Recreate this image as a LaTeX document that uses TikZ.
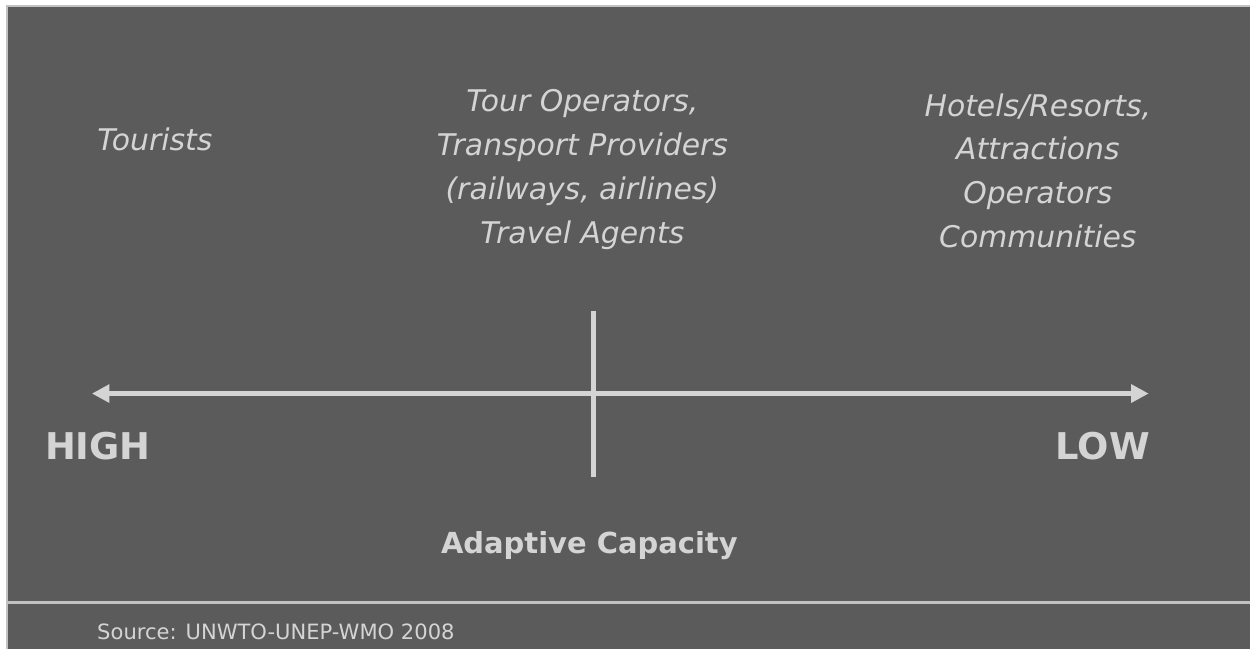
\documentclass[tikz,border=0pt]{standalone}
\usepackage{fontspec}
\setmainfont{DejaVu Sans}
\usetikzlibrary{arrows.meta}
\definecolor{panel}{HTML}{5B5B5B}
\definecolor{chalk}{HTML}{D4D4D4}
\definecolor{rim}{HTML}{C2C2C2}
\begin{document}
\begin{tikzpicture}[x=0.02cm,y=-0.02cm,
  actor/.style={text=chalk, align=center, font=\itshape\fontsize{17}{25}\selectfont},
  pole/.style={text=chalk, font=\bfseries\fontsize{21}{25}\selectfont},
  axis/.style={chalk, line width=3pt}]
% frame
\fill[white] (0,0) rectangle (1251,650);
\fill[panel] (7,6) rectangle (1251,650);
\draw[rim, line width=1.2pt] (7,650) -- (7,6) -- (1251,6);
\draw[rim, line width=1.6pt] (7,603) -- (1251,603);
% groups
\node[actor] (tourists) at (155,140) {Tourists};
\node[actor] (carriers) at (583,170) {Tour Operators,\\Transport Providers\\(railways, airlines)\\Travel Agents};
\node[actor] (hosts) at (1039,171) {Hotels/Resorts,\\Attractions\\Operators\\Communities};
% axis
\coordinate (axisW) at (92,394);
\coordinate (axisE) at (1150,394);
\coordinate (divT) at (594,311);
\coordinate (divB) at (594,478);
\draw[axis, {Triangle[length=10pt,width=10pt]}-{Triangle[length=10pt,width=10pt]}] (axisW) -- (axisE);
\draw[axis] (divT) -- (divB);
\node[pole] (high) at (98,447) {HIGH};
\node[pole] (low) at (1104,447) {LOW};
\node[text=chalk, font=\bfseries\fontsize{16.5}{20}\selectfont] (capacity) at (590,546) {Adaptive Capacity};
\node[text=chalk, font=\fontsize{12}{14}\selectfont, anchor=west, inner sep=0pt] (source) at (97,633) {Source: UNWTO-UNEP-WMO 2008};
\end{tikzpicture}
\end{document}
